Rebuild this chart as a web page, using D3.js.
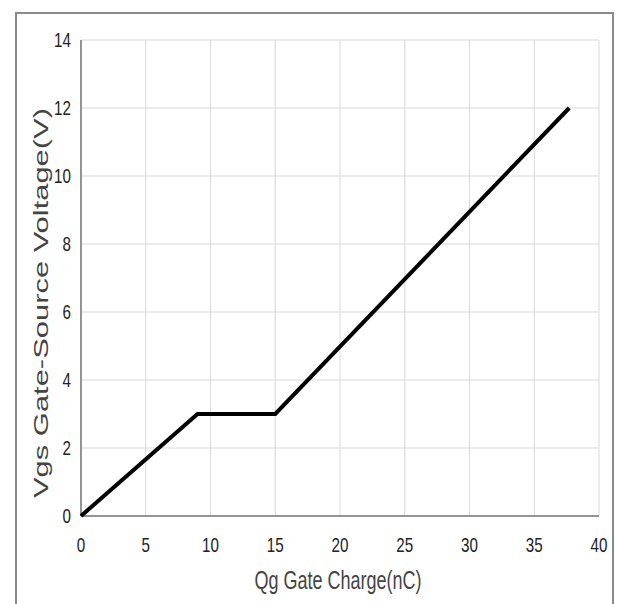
<!DOCTYPE html>
<html>
<head>
<meta charset="utf-8">
<script src="https://cdn.jsdelivr.net/npm/d3@7"></script>
<style>
html,body{margin:0;padding:0;background:#fff;}
svg{display:block;}
</style>
</head>
<body>
<svg id="chart" width="617" height="604"></svg>
<script>
const chargeNC = [0, 9, 15, 37.7];
const vgsV = [0, 3, 3, 12];
const xTicks = [0, 5, 10, 15, 20, 25, 30, 35, 40];
const yTicks = [0, 2, 4, 6, 8, 10, 12, 14];
const xTitle = "Qg Gate Charge(nC)";
const yTitle = "Vgs Gate-Source Voltage(V)";

const svg = d3.select("#chart");
const m = {left: 81, top: 40, right: 599, bottom: 516};
const x = d3.scaleLinear().domain([0, 40]).range([m.left, m.right]);
const y = d3.scaleLinear().domain([0, 14]).range([m.bottom, m.top]);
const sans = "'Liberation Sans', Arial, sans-serif";

// outer frame
svg.append("rect").attr("x", 16).attr("y", 13).attr("width", 597).attr("height", 600)
  .attr("fill", "#fff").attr("stroke", "#8a8a8a").attr("stroke-width", 2);

// grid
const g = svg.append("g");
g.selectAll(".vg").data(xTicks).enter().append("line")
  .attr("x1", d => x(d)).attr("x2", d => x(d)).attr("y1", m.top).attr("y2", m.bottom)
  .attr("stroke", "#d9d9d9").attr("stroke-width", 1);
g.selectAll(".hg").data(yTicks).enter().append("line")
  .attr("x1", m.left).attr("x2", m.right).attr("y1", d => y(d)).attr("y2", d => y(d))
  .attr("stroke", "#d9d9d9").attr("stroke-width", 1);

// axes lines
svg.append("line").attr("x1", m.left).attr("x2", m.left).attr("y1", m.top).attr("y2", m.bottom)
  .attr("stroke", "#777").attr("stroke-width", 1.5);
svg.append("line").attr("x1", m.left).attr("x2", m.right).attr("y1", m.bottom).attr("y2", m.bottom)
  .attr("stroke", "#777").attr("stroke-width", 1.5);

// tick labels (condensed look)
svg.selectAll(".xt").data(xTicks).enter().append("text")
  .attr("transform", d => `translate(${x(d)},552) scale(0.76,1)`).attr("text-anchor", "middle")
  .attr("font-family", sans).attr("font-size", 20).attr("fill", "#222")
  .text(d => d);
svg.selectAll(".yt").data(yTicks).enter().append("text")
  .attr("transform", d => `translate(71,${y(d) + 7}) scale(0.76,1)`).attr("text-anchor", "end")
  .attr("font-family", sans).attr("font-size", 20).attr("fill", "#222")
  .text(d => d);

// titles
svg.append("text").attr("x", 338).attr("y", 589).attr("text-anchor", "middle")
  .attr("font-family", sans).attr("font-size", 26)
  .attr("fill", "#444").attr("textLength", 167).attr("lengthAdjust", "spacingAndGlyphs")
  .text(xTitle);
svg.append("text").attr("transform", "translate(48,303) rotate(-90)").attr("text-anchor", "middle")
  .attr("font-family", sans).attr("font-size", 21)
  .attr("fill", "#444").attr("textLength", 390).attr("lengthAdjust", "spacingAndGlyphs")
  .text(yTitle);

// data line
const line = d3.line().x((d, i) => x(chargeNC[i])).y((d, i) => y(vgsV[i]));
svg.append("path").datum(vgsV).attr("d", line)
  .attr("fill", "none").attr("stroke", "#000").attr("stroke-width", 4)
  .attr("stroke-linejoin", "miter");
</script>
</body>
</html>
